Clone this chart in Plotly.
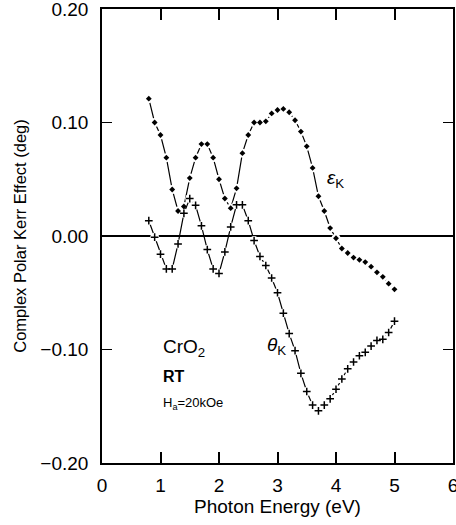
import plotly.graph_objects as go

energy = [0.8, 0.9, 1.0, 1.1, 1.2, 1.3, 1.4, 1.5, 1.6, 1.7, 1.8, 1.9, 2.0, 2.1, 2.2,
          2.3, 2.4, 2.5, 2.6, 2.7, 2.8, 2.9, 3.0, 3.1, 3.2, 3.3, 3.4, 3.5, 3.6, 3.7,
          3.8, 3.9, 4.0, 4.1, 4.2, 4.3, 4.4, 4.5, 4.6, 4.7, 4.8, 4.9, 5.0]

eps_k = [0.121, 0.100, 0.089, 0.069, 0.041, 0.022, 0.026, 0.051, 0.069, 0.081, 0.081,
         0.069, 0.050, 0.033, 0.0245, 0.042, 0.073, 0.089, 0.100, 0.100, 0.101, 0.108,
         0.111, 0.112, 0.109, 0.102, 0.092, 0.079, 0.060, 0.035, 0.022, 0.007, -0.002,
         -0.011, -0.015, -0.019, -0.021, -0.023, -0.027, -0.032, -0.036, -0.042, -0.047]

theta_k = [0.0135, -0.001, -0.016, -0.029, -0.029, -0.007, 0.020, 0.033, 0.027, 0.009,
           -0.012, -0.029, -0.033, -0.014, 0.008, 0.0275, 0.0275, 0.0135, -0.004, -0.018,
           -0.026, -0.037, -0.050, -0.068, -0.086, -0.101, -0.121, -0.137, -0.149, -0.154,
           -0.149, -0.1435, -0.135, -0.126, -0.117, -0.111, -0.1055, -0.1025, -0.097,
           -0.092, -0.091, -0.085, -0.075]

x_ticks = [0, 1, 2, 3, 4, 5, 6]
y_ticks = [-0.20, -0.10, 0.00, 0.10, 0.20]

FONT = "Liberation Sans, Arial, Helvetica, sans-serif"

fig = go.Figure()

for ys in (eps_k, theta_k):
    fig.add_trace(go.Scatter(x=energy, y=ys, mode="lines",
                             line=dict(color="black", width=1.2),
                             showlegend=False, hoverinfo="skip"))
    # white halos to create gaps around the markers
    fig.add_trace(go.Scatter(x=energy, y=ys, mode="markers",
                             marker=dict(symbol="circle", size=9, color="white"),
                             showlegend=False, hoverinfo="skip"))

fig.add_trace(go.Scatter(x=energy, y=eps_k, mode="markers", name="εK",
                         marker=dict(symbol="diamond", size=4.5, color="black"),
                         showlegend=False))
fig.add_trace(go.Scatter(x=energy, y=theta_k, mode="markers", name="θK",
                         marker=dict(symbol="cross-thin", size=5.5, color="black",
                                     line=dict(color="black", width=1.5)),
                         showlegend=False))

fig.update_layout(
    width=456, height=525,
    margin=dict(l=102, r=3, t=9, b=62, autoexpand=False),
    paper_bgcolor="white", plot_bgcolor="white",
    font=dict(family=FONT, size=18, color="black"),
    xaxis=dict(range=[0, 6], tickmode="array", tickvals=x_ticks,
               ticks="inside", ticklen=11, tickwidth=2, tickcolor="black",
               showline=True, linecolor="black", linewidth=1.5, mirror="ticks",
               showgrid=False, zeroline=False, automargin=False,
               ticklabeloverflow="allow",
               tickfont=dict(size=19), ticklabelstandoff=4,
               title=dict(text="Photon Energy (eV)", font=dict(size=19), standoff=4)),
    yaxis=dict(range=[-0.2, 0.2], tickvals=y_ticks, tickformat=".2f",
               ticks="inside", ticklen=10, tickwidth=1.4, tickcolor="black",
               showline=True, linecolor="black", linewidth=1.5, mirror="ticks",
               showgrid=False, zeroline=True, zerolinecolor="black", zerolinewidth=1.5,
               automargin=False, ticklabeloverflow="allow",
               tickfont=dict(size=19), ticklabelstandoff=8,
               title=dict(text="Complex Polar Kerr Effect (deg)", font=dict(size=16.5),
                          standoff=10)),
)

ann = [
    dict(x=3.99, y=0.050, text="<i>ε</i><sub>K</sub>", font=dict(size=19), xanchor="center"),
    dict(x=2.98, y=-0.097, text="<i>θ</i><sub>K</sub>", font=dict(size=19), xanchor="center"),
    dict(x=1.0, y=-0.099, text="CrO<sub>2</sub>", font=dict(size=19), xanchor="left"),
    dict(x=1.0, y=-0.124, text="<b>RT</b>", font=dict(size=16), xanchor="left"),
    dict(x=1.0, y=-0.148, text="H<sub>a</sub>=20kOe", font=dict(size=13), xanchor="left"),
]
for a in ann:
    fig.add_annotation(xref="x", yref="y", showarrow=False, yanchor="middle", **a)

fig.write_html(
    "out.html",
    config={"displayModeBar": False},
    post_script="document.body.style.margin='0';document.body.style.overflow='hidden';",
)
